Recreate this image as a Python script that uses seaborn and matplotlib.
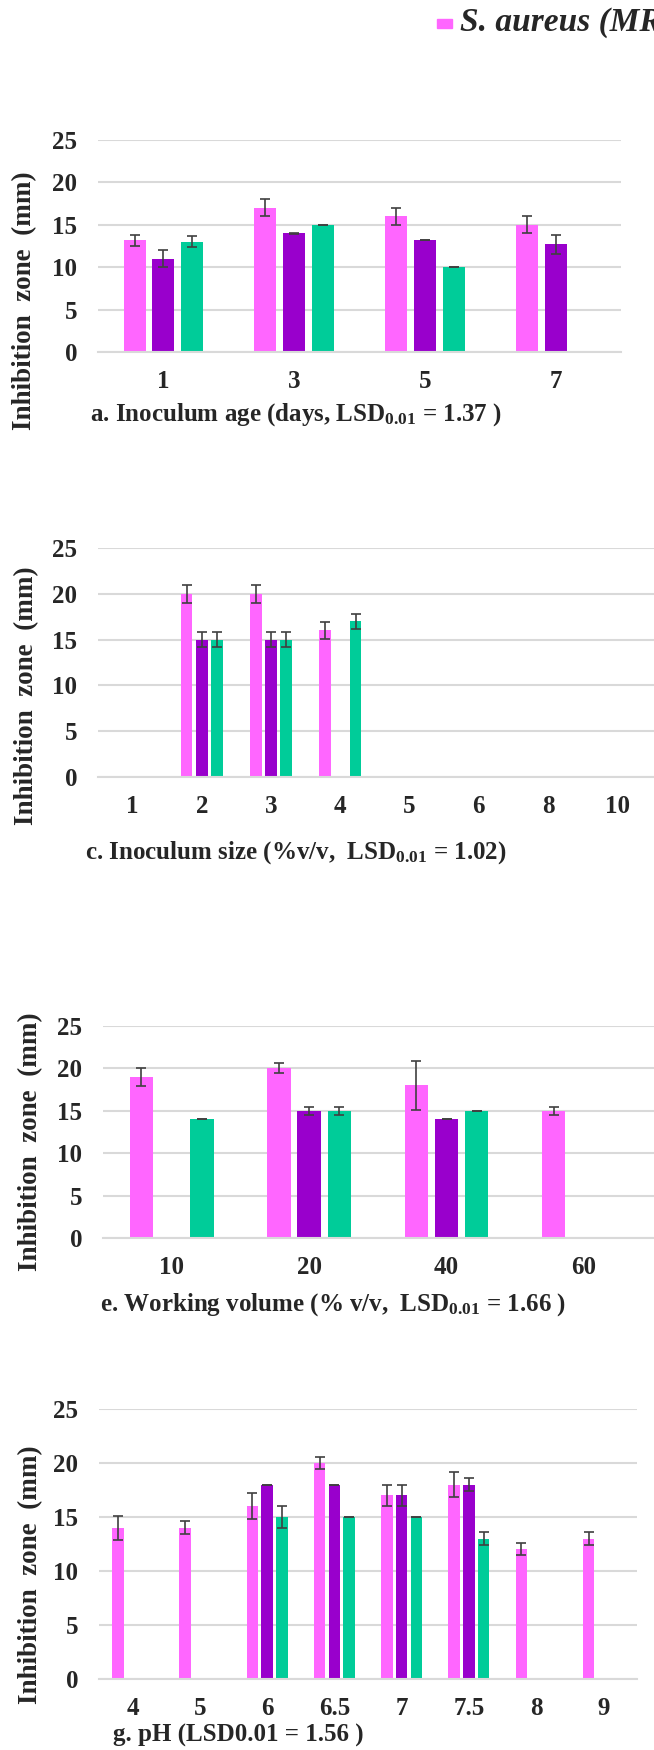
import numpy as np
import pandas as pd
import seaborn as sns
import matplotlib.pyplot as plt
from matplotlib.patches import Rectangle

nan = np.nan

series = ['S. aureus (MRSA)', 'Isolate 2', 'Isolate 3']
colors = ['#FF66FF', '#9900CC', '#00CC99']

# a. inoculum age
age_cats = ['1', '3', '5', '7']
age_s1 = [13.2, 17, 16, 15]
age_s1_err = [0.65, 1.0, 1.0, 1.0]
age_s2 = [11, 14, 13.2, 12.7]
age_s2_err = [1.0, 0.05, 0.05, 1.15]
age_s3 = [13, 15, 10, nan]
age_s3_err = [0.65, 0, 0, nan]

# c. inoculum size
size_cats = ['1', '2', '3', '4', '5', '6', '8', '10']
size_s1 = [nan, 20, 20, 16, nan, nan, nan, nan]
size_s1_err = [nan, 1.0, 1.0, 0.9, nan, nan, nan, nan]
size_s2 = [nan, 15, 15, nan, nan, nan, nan, nan]
size_s2_err = [nan, 0.8, 0.8, nan, nan, nan, nan, nan]
size_s3 = [nan, 15, 15, 17, nan, nan, nan, nan]
size_s3_err = [nan, 0.8, 0.8, 0.8, nan, nan, nan, nan]

# e. working volume
vol_cats = ['10', '20', '40', '60']
vol_s1 = [19, 20, 18, 15]
vol_s1_err = [1.1, 0.6, 2.9, 0.5]
vol_s2 = [nan, 15, 14, nan]
vol_s2_err = [nan, 0.5, 0, nan]
vol_s3 = [14, 15, 15, nan]
vol_s3_err = [0, 0.5, 0, nan]

# g. pH
ph_cats = ['4', '5', '6', '6.5', '7', '7.5', '8', '9']
ph_s1 = [14, 14, 16, 20, 17, 18, 12, 13]
ph_s1_err = [1.1, 0.6, 1.2, 0.6, 1.0, 1.15, 0.55, 0.6]
ph_s2 = [nan, nan, 18, 18, 17, 18, nan, nan]
ph_s2_err = [nan, nan, 0, 0, 1.0, 0.6, nan, nan]
ph_s3 = [nan, nan, 15, 15, 15, 13, nan, nan]
ph_s3_err = [nan, nan, 1.0, 0, 0, 0.6, nan, nan]

sns.set_style('white')
plt.rcParams['font.family'] = ['Liberation Serif', 'DejaVu Serif']
plt.rcParams['font.weight'] = 'bold'
plt.rcParams['mathtext.fontset'] = 'custom'
plt.rcParams['mathtext.bf'] = 'Liberation Serif:bold'
plt.rcParams['mathtext.rm'] = 'Liberation Serif:bold'
plt.rcParams['mathtext.default'] = 'bf'

W, H = 654, 1750
fig = plt.figure(figsize=(W / 100, H / 100), dpi=100)

GRID = '#D9D9D9'
WIDTH = 0.66
GAP = 0.23
TICK_FS = 18


def px_axes(left, right, top, bottom):
    return fig.add_axes([left / W, 1 - bottom / H, (right - left) / W, (bottom - top) / H])


def panel(ax, cats, vals, errs, boundary_ticks=False):
    rows = []
    for s, v, e in zip(series, vals, errs):
        for c, vv, ee in zip(cats, v, e):
            rows.append({'cat': c, 'val': vv, 'err': ee, 'series': s})
    df = pd.DataFrame(rows)
    df['bar'] = df['val'].fillna(0)
    sns.barplot(data=df, x='cat', y='bar', hue='series', order=cats, hue_order=series,
                palette=colors, width=WIDTH, gap=GAP, errorbar=None, legend=False,
                linewidth=0, saturation=1, ax=ax)
    step = WIDTH / len(series)
    for p in ax.patches:
        xc = p.get_x() + p.get_width() / 2
        ci = int(round(xc))
        hi = int(round((xc - ci) / step)) + 1
        row = df[(df['cat'] == cats[ci]) & (df['series'] == series[hi])].iloc[0]
        if np.isnan(row['val']):
            continue
        ax.errorbar(xc, row['val'], yerr=row['err'], color='#404040', lw=1.2,
                    capsize=3.5, capthick=1.2, zorder=5)
    ax.set_ylim(0, 25)
    ax.set_yticks(range(0, 26, 5))
    ax.set_xlim(-0.5, len(cats) - 0.5)
    ax.yaxis.grid(True, color=GRID, lw=1.5)
    ax.set_axisbelow(True)
    for sp in ['left', 'right', 'top']:
        ax.spines[sp].set_visible(False)
    ax.spines['bottom'].set_color(GRID)
    ax.spines['bottom'].set_linewidth(1.5)
    ax.set_xlabel('')
    ax.set_ylabel('')
    ax.tick_params(axis='y', length=0, pad=15, labelsize=TICK_FS)
    ax.tick_params(axis='x', length=0, pad=13, labelsize=TICK_FS)
    if boundary_ticks:
        ax.set_xticks(np.arange(-0.5, len(cats), 1), minor=True)
        ax.tick_params(axis='x', which='minor', length=6, color=GRID, width=1.5, direction='out')


ax_a = px_axes(98, 621, 140, 352)
panel(ax_a, age_cats, [age_s1, age_s2, age_s3], [age_s1_err, age_s2_err, age_s3_err])

ax_c = px_axes(98, 654, 548, 777)
panel(ax_c, size_cats, [size_s1, size_s2, size_s3], [size_s1_err, size_s2_err, size_s3_err],
      boundary_ticks=True)
ax_c.set_xlim(-0.5, len(size_cats) - 0.5 + 0.03)

ax_e = px_axes(103, 654, 1026, 1238)
panel(ax_e, vol_cats, [vol_s1, vol_s2, vol_s3], [vol_s1_err, vol_s2_err, vol_s3_err])
ax_e.set_xlim(-0.5, len(vol_cats) - 0.5 + 0.01)

ax_g = px_axes(99, 637, 1409, 1679)
panel(ax_g, ph_cats, [ph_s1, ph_s2, ph_s3], [ph_s1_err, ph_s2_err, ph_s3_err])

# panel captions
captions = [
    (90, 415, 'a. Inoculum age (days, LSD$_{0.01}$ = 1.37 )'),
    (85, 853, 'c. Inoculum size (%v/v,  LSD$_{0.01}$ = 1.02)'),
    (100, 1305, 'e. Working volume (% v/v,  LSD$_{0.01}$ = 1.66 )'),
    (113, 1735, 'g. pH (LSD0.01 = 1.56 )'),
]
for x, y, t in captions:
    fig.text(x / W, 1 - y / H, t, ha='left', va='center', fontsize=18, fontweight='bold')

# y labels
for x, y in [(25, 301), (27, 696), (31, 1142), (31, 1575)]:
    fig.text(x / W, 1 - y / H, 'Inhibition  zone  (mm)', rotation=90, ha='center',
             va='center', fontsize=19.5, fontweight='bold')

# legend entry (only the first one is inside the frame)
fig.patches.append(Rectangle((437 / W, 1 - 28 / H), 15 / W, 9 / H,
                             transform=fig.transFigure, color=colors[0]))
fig.text(460 / W, 1 - 23 / H, series[0], ha='left', va='center', fontsize=24,
         fontweight='bold', style='italic')

fig.savefig('out.png', dpi=100)
